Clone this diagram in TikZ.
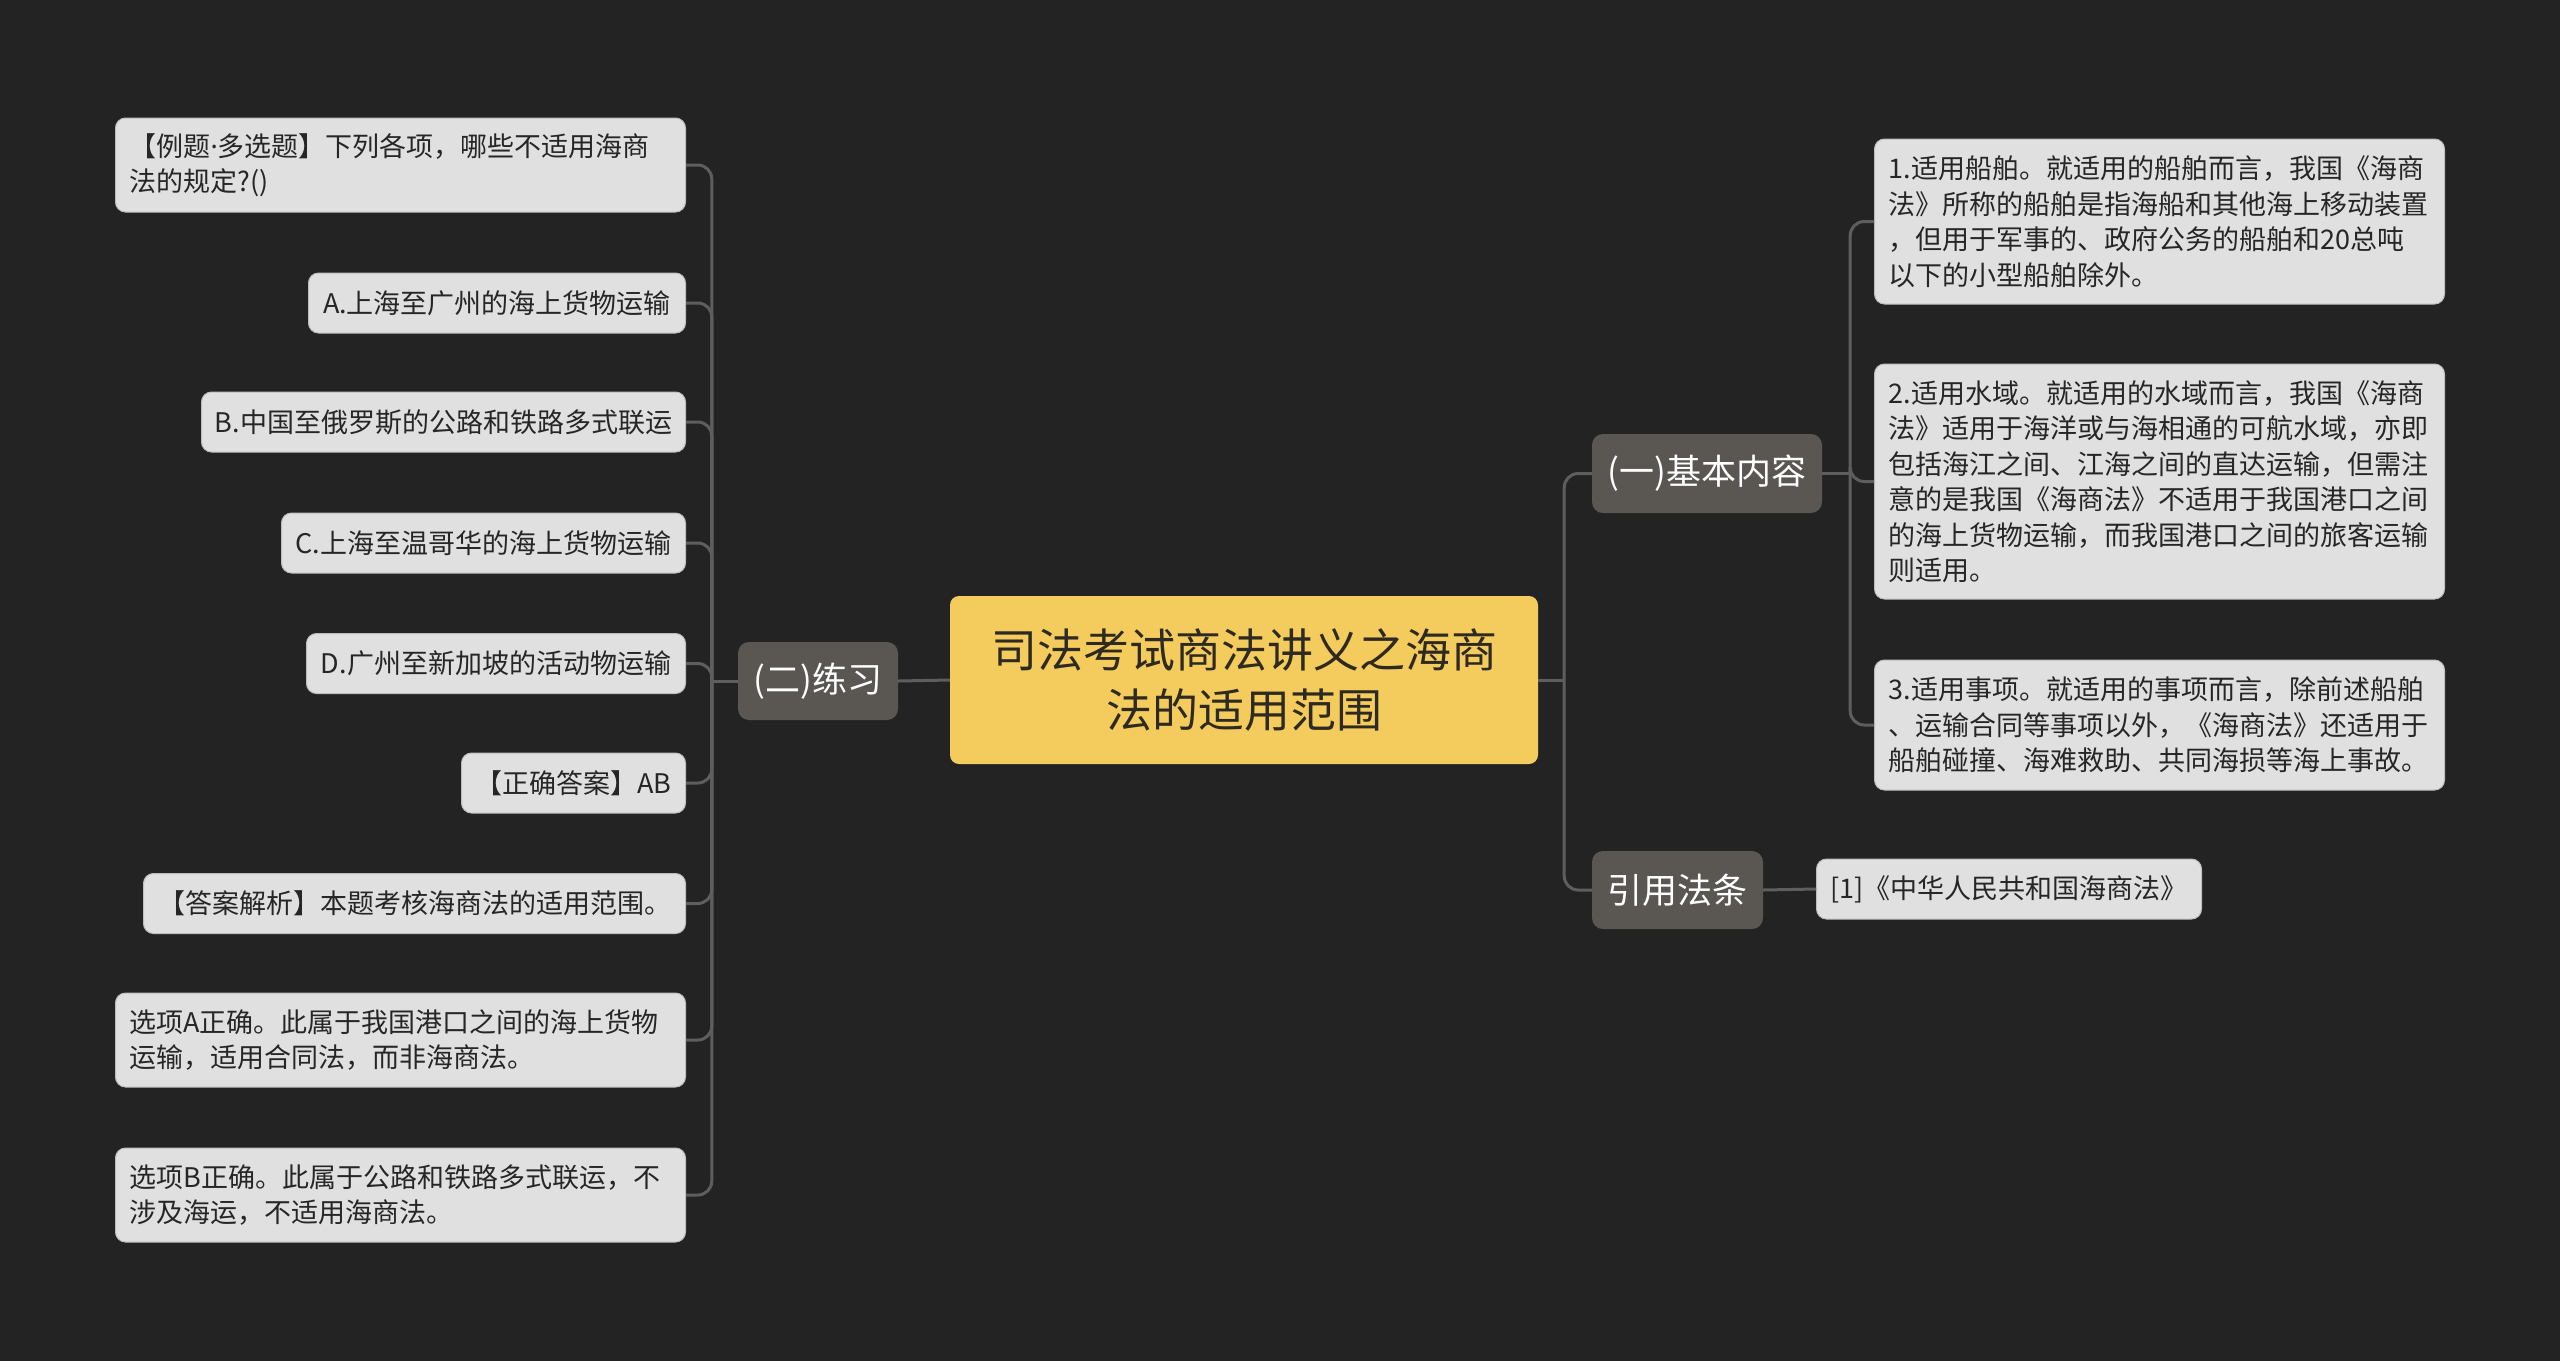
\documentclass[tikz,border=0pt]{standalone}
\usepackage{fontspec}
\setmainfont{Noto Sans CJK SC}
\newfontfamily\latinfont{Noto Sans}
\definecolor{bgc}{HTML}{232323}
\definecolor{leafc}{HTML}{E0E0E0}
\definecolor{leafline}{HTML}{BDBDBD}
\definecolor{leaftext}{HTML}{262626}
\definecolor{subc}{HTML}{5A5652}
\definecolor{rootc}{HTML}{F4CB5D}
\definecolor{roottext}{HTML}{2E2A22}
\definecolor{linec}{HTML}{5E5E5E}
\tikzset{
  leaf/.style={rounded corners=10pt, fill=leafc, draw=leafline, line width=1pt,
    text=leaftext, font=\fontsize{27}{35.5}\selectfont, inner xsep=8pt, inner ysep=0pt,
    minimum height=60pt},
  leafml/.style={leaf, align=left, text width=542pt, inner xsep=14pt},
  subbox/.style={rounded corners=11pt, fill=subc, text=white,
    font=\fontsize{35}{42}\selectfont, inner sep=0pt, minimum height=78pt},
  rootbox/.style={rounded corners=9pt, fill=rootc, text=roottext,
    font=\fontsize{46}{60}\selectfont, align=center, inner sep=0pt,
    minimum width=588pt, minimum height=168pt},
  conn/.style={draw=linec, line width=3pt, rounded corners=14pt}
}
\begin{document}
\begin{tikzpicture}[x=1pt,y=-1pt]
\useasboundingbox (0,0) rectangle (2560,1361);
\fill[bgc] (0,0) rectangle (2560,1361);

% root
\node[rootbox] (root) at (1244,680) {司法考试商法讲义之海商\\法的适用范围};

% sub nodes
\node[subbox, minimum width=160pt] (s2) at (818,681) {(二)练习};
\node[subbox, minimum width=230pt, minimum height=79pt] (s1) at (1707,473.5) {(一)基本内容};
\node[subbox, minimum width=171pt] (s3) at (1677.5,890) {引用法条};

% left leaves
\node[leafml, minimum height=94pt, anchor=east] (l1) at (686,165)
  {【例题{\latinfont ·}多选题】下列各项，哪些不适用海商\\法的规定?()};
\node[leaf, minimum width=377pt, anchor=east] (l2) at (686,303) {A.上海至广州的海上货物运输};
\node[leaf, minimum width=484pt, anchor=east] (l3) at (686,422) {B.中国至俄罗斯的公路和铁路多式联运};
\node[leaf, minimum width=404pt, anchor=east] (l4) at (686,543) {C.上海至温哥华的海上货物运输};
\node[leaf, minimum width=379pt, anchor=east] (l5) at (686,663.5) {D.广州至新加坡的活动物运输};
\node[leaf, minimum width=224pt, anchor=east] (l6) at (686,783) {【正确答案】AB};
\node[leaf, minimum width=542pt, anchor=east] (l7) at (686,903.5) {【答案解析】本题考核海商法的适用范围。};
\node[leafml, minimum height=94pt, anchor=east] (l8) at (686,1040)
  {选项A正确。此属于我国港口之间的海上货物\\运输，适用合同法，而非海商法。};
\node[leafml, minimum height=94pt, anchor=east] (l9) at (686,1195)
  {选项B正确。此属于公路和铁路多式联运，不\\涉及海运，不适用海商法。};

% right leaves
\node[leafml, minimum height=165pt, anchor=west] (r1) at (1874,221.5)
  {1.适用船舶。就适用的船舶而言，我国《海商\\法》所称的船舶是指海船和其他海上移动装置\\，但用于军事的、政府公务的船舶和20总吨\\以下的小型船舶除外。};
\node[leafml, minimum height=235pt, anchor=west] (r2) at (1874,481.5)
  {2.适用水域。就适用的水域而言，我国《海商\\法》适用于海洋或与海相通的可航水域，亦即\\包括海江之间、江海之间的直达运输，但需注\\意的是我国《海商法》不适用于我国港口之间\\的海上货物运输，而我国港口之间的旅客运输\\则适用。};
\node[leafml, minimum height=130pt, anchor=west] (r3) at (1874,725)
  {3.适用事项。就适用的事项而言，除前述船舶\\、运输合同等事项以外，《海商法》还适用于\\船舶碰撞、海难救助、共同海损等海上事故。};
\node[leaf, minimum width=385pt, anchor=west] (ref) at (1816,889) {[1]《中华人民共和国海商法》};

% connectors: root
\coordinate (busR) at ([xshift=26pt]root.east);
\draw[conn] (root.east) -- (busR);
\draw[conn] (busR) |- (s1.west);
\draw[conn] (busR) |- (s3.west);
\draw[conn] (root.west) -- (s2.east);

% connectors: (二)练习
\coordinate (busL) at ([xshift=-26pt]s2.west);
\draw[conn] (s2.west) -- (busL);
\foreach \n in {l1,l2,l3,l4,l5,l6,l7,l8,l9}
  \draw[conn] (busL) |- (\n.east);

% connectors: (一)基本内容
\coordinate (busS) at ([xshift=28pt]s1.east);
\draw[conn] (s1.east) -- (busS);
\foreach \n in {r1,r2,r3}
  \draw[conn] (busS) |- (\n.west);

% 引用法条
\draw[conn] (s3.east) -- (ref.west);
\end{tikzpicture}
\end{document}
